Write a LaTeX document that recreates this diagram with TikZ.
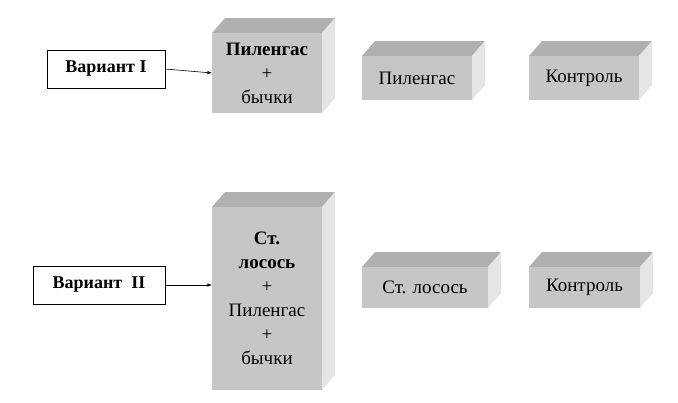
\documentclass[tikz,border=0pt]{standalone}
\usepackage{fontspec}
\setmainfont{Liberation Serif}
\begin{document}
\begin{tikzpicture}[x=1pt,y=-1pt,
  lbl/.style={draw=black,fill=white,line width=0.8pt,inner sep=0pt,font=\fontsize{18}{20}\selectfont\bfseries},
  arr/.style={-latex,line width=0.6pt},
  txt/.style={font=\fontsize{19}{24}\selectfont,align=center}]
\useasboundingbox (0,0) rectangle (678,402);
\newcommand{\cuboid}[5]{% x1 y1 x2 y2 name
  \fill[gray!45!white!70!gray] (#1,#2) -- (#1+13,#2-15) -- (#3+13,#2-15) -- (#3,#2) -- cycle;
  \fill[gray!20] (#3,#2) -- (#3+13,#2-15) -- (#3+13,#4-15) -- (#3,#4) -- cycle;
  \fill[gray!45] (#1,#2) rectangle (#3,#4);
  \coordinate (#5) at ({(#1+#3)/2},{(#2+#4)/2});
  \coordinate (#5w) at (#1,{(#2+#4)/2});}
\colorlet{topc}{black!40}
\cuboid{212}{33}{322}{113}{b1}
\cuboid{362}{56}{472}{100}{b2}
\cuboid{529}{56}{639}{100}{b3}
\cuboid{212}{207}{322}{390}{b4}
\cuboid{362}{267}{488}{308}{b5}
\cuboid{529}{267}{640}{308}{b6}
\node[txt] (t1) at (b1) {\textbf{Пиленгас}\\+\\бычки};
\node[txt] (t2) at (b2) {Пиленгас};
\node[txt] (t3) at (b3) {Контроль};
\node[txt] (t4) at (b4) {\textbf{Ст.}\\\textbf{лосось}\\+\\Пиленгас\\+\\бычки};
\node[txt] (t5) at (b5) {Ст. лосось};
\node[txt] (t6) at (b6) {Контроль};
\node[lbl,minimum width=118pt,minimum height=38pt] (v1) at (106,69) {Вариант I};
\node[lbl,minimum width=132pt,minimum height=38pt] (v2) at (99,285) {Вариант\ \ II};
\draw[arr] (v1.east) -- (b1w);
\draw[arr] (v2.east) -- (b4w |- v2.east);
\end{tikzpicture}
\end{document}
